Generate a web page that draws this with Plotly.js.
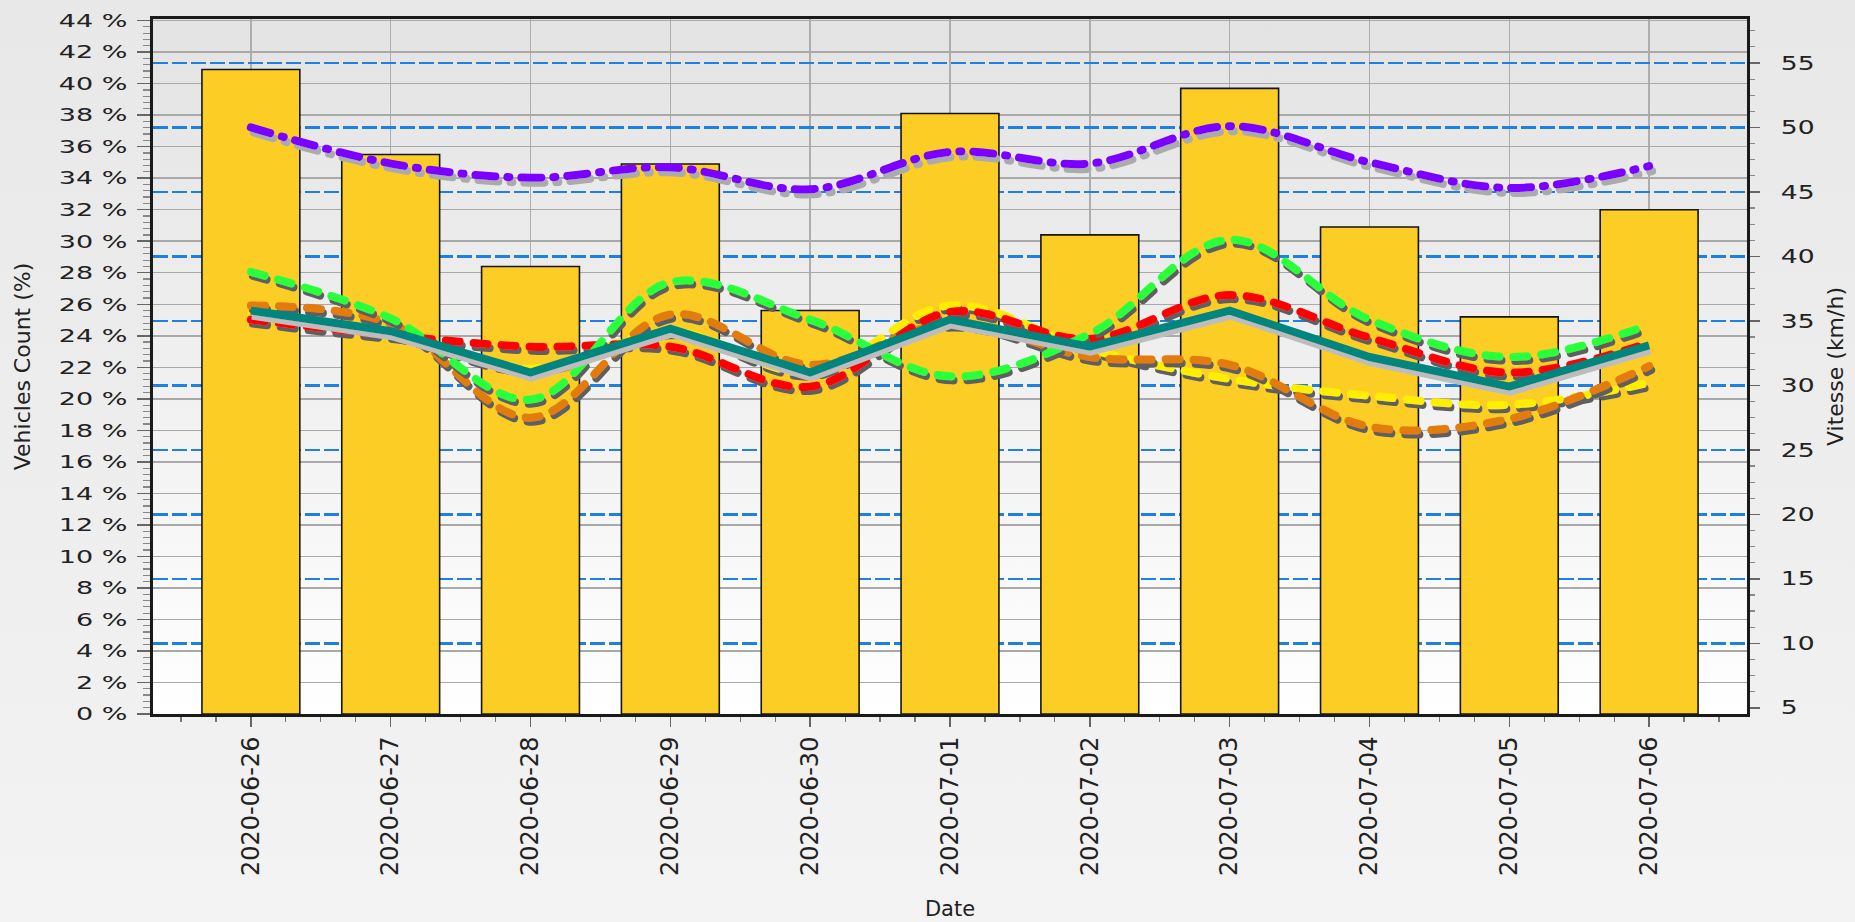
<!DOCTYPE html>
<html><head><meta charset="utf-8">
<script src="https://cdn.plot.ly/plotly-3.0.1.min.js"></script>
<style>
html,body{margin:0;padding:0;}
body{width:1855px;height:922px;background:linear-gradient(to bottom,#e8e8e8,#f3f3f3);overflow:hidden;}
#chart{width:1855px;height:922px;}
</style></head><body><div id="chart"></div>
<script>
// ---- data ----
const dates = ['2020-06-26','2020-06-27','2020-06-28','2020-06-29','2020-06-30','2020-07-01','2020-07-02','2020-07-03','2020-07-04','2020-07-05','2020-07-06'];
const vehiclesPct = [40.9, 35.5, 28.4, 34.9, 25.6, 38.1, 30.4, 39.7, 30.9, 25.2, 32.0];
const speedPurple = [50.0, 47.2, 46.1, 46.9, 45.2, 48.1, 47.2, 50.1, 47.3, 45.3, 47.0];
const speedYellow = [35.4, 34.0, 31.3, 34.2, 31.0, 36.2, 32.8, 30.5, 29.2, 28.5, 30.2];
const speedOrange = [36.2, 34.8, 27.5, 35.5, 31.6, 34.8, 32.2, 31.6, 26.8, 27.4, 31.5];
const speedRed    = [35.1, 33.9, 33.0, 33.0, 29.9, 35.7, 33.6, 37.0, 33.7, 31.0, 33.3];
const speedGreen  = [38.8, 35.2, 28.9, 38.0, 35.1, 30.7, 34.0, 41.3, 35.1, 32.2, 34.7];
const speedTeal   = [35.8, 34.2, 31.0, 34.4, 31.0, 35.1, 33.0, 35.8, 32.2, 29.9, 33.1];

const pos = dates.map((d, i) => i);

function dashed(y, color) {
  return {type:'scatter', mode:'lines', x:pos, y:y, yaxis:'y2', hoverinfo:'skip',
    line:{color:color, width:8, dash:'14px,14px', shape:'spline', smoothing:1}};
}
const data = [
  {type:'bar', x:pos, y:vehiclesPct, width:0.7, yaxis:'y', hoverinfo:'skip',
   marker:{color:'#fccd24', line:{color:'#151515', width:1.6}}},
  {type:'scatter', mode:'lines', x:pos, y:speedPurple, yaxis:'y2', hoverinfo:'skip',
   line:{color:'#7b00ff', width:8, dash:'20px,12px,2px,12px', shape:'spline', smoothing:1}},
  dashed(speedYellow, '#ffee00'),
  dashed(speedOrange, '#e27b10'),
  dashed(speedRed, '#ff0000'),
  dashed(speedGreen, '#2cff3a'),
  {type:'scatter', mode:'lines', x:pos, y:speedTeal, yaxis:'y2', hoverinfo:'skip',
   line:{color:'#00857f', width:8, shape:'linear'}}
];
const shadows = [
  ['shPurple', '#ababab', 3, 5],
  ['shYellow', '#5e5e5e', 2, 4],
  ['shOrange', '#5e5e5e', 2, 4],
  ['shRed',    '#5e5e5e', 2, 4],
  ['shGreen',  '#5e5e5e', 2, 4],
  ['shTeal',   '#bdbdbd', 1, 5]
];

const layout = {
  width:1855, height:922,
  margin:{l:153, r:108, t:19, b:208, autoexpand:false},
  paper_bgcolor:'rgba(0,0,0,0)', plot_bgcolor:'#f0f0f0',
  showlegend:false, bargap:0.3,
  font:{family:'DejaVu Sans, Verdana, sans-serif', color:'#222', size:19},
  xaxis:{
    range:[-0.7, 10.7], tickmode:'array', tickvals:pos, ticktext:dates, tickangle:-90,
    tickfont:{family:'DejaVu Sans, Verdana, sans-serif', size:24, color:'#222'},
    ticks:'outside', ticklen:10, tickwidth:1.5, tickcolor:'#666', ticklabelstandoff:0,
    showgrid:true, gridcolor:'#adadad', gridwidth:1.5,
    showline:true, linecolor:'#1a1a1a', linewidth:3, mirror:true, zeroline:false,
    minor:{tickmode:'linear', tick0:0, dtick:0.25, ticks:'outside', ticklen:5, tickwidth:1.2, tickcolor:'#777', showgrid:false},
    title:{text:'Date', font:{size:21, color:'#222'}, standoff:27}
  },
  yaxis:{
    range:[0, 44.1], tick0:0, dtick:2, ticksuffix:' %',
    ticks:'outside', ticklen:13, tickwidth:1.5, tickcolor:'#666', ticklabelstandoff:6,
    tickfont:{size:18, color:'#222'},
    showgrid:true, gridcolor:'#a9a9a9', gridwidth:1.5,
    showline:true, linecolor:'#1a1a1a', linewidth:3, zeroline:false,
    minor:{tick0:0, dtick:0.4, ticks:'outside', ticklen:7, tickwidth:1.2, tickcolor:'#888', showgrid:false},
    title:{text:'Vehicles Count (%)', font:{size:22, color:'#222'}, standoff:45}
  },
  yaxis2:{
    overlaying:'y', side:'right', range:[4.52, 58.41], tick0:5, dtick:5,
    ticks:'outside', ticklen:10, tickwidth:1.5, tickcolor:'#666', ticklabelstandoff:17,
    tickfont:{size:19, color:'#222'},
    showgrid:true, gridcolor:'#1f80e4', gridwidth:2.5, griddash:'15px,4px',
    showline:true, linecolor:'#1a1a1a', linewidth:3, zeroline:false,
    minor:{tick0:5, dtick:1.25, ticks:'outside', ticklen:5, tickwidth:1.2, tickcolor:'#888', showgrid:false},
    title:{text:'Vitesse (km/h)', font:{size:22, color:'#222'}, standoff:24}
  }
};

const gd = document.getElementById('chart');
Plotly.newPlot(gd, data, layout, {staticPlot:true, displayModeBar:false}).then(() => {
  const NS = 'http://www.w3.org/2000/svg';
  const svg = gd.querySelector('svg.main-svg');
  let defs = svg.querySelector('defs');
  if (!defs) { defs = document.createElementNS(NS, 'defs'); svg.insertBefore(defs, svg.firstChild); }
  function el(tag, attrs, parent) {
    const e = document.createElementNS(NS, tag);
    for (const k in attrs) e.setAttribute(k, attrs[k]);
    if (parent) parent.appendChild(e);
    return e;
  }
  // drop shadows under the speed lines
  shadows.forEach(([id, color, dx, dy]) => {
    const f = el('filter', {id:id, filterUnits:'userSpaceOnUse', x:-300, y:-300, width:2600, height:1600}, defs);
    el('feOffset', {in:'SourceAlpha', dx:dx, dy:dy, result:'off'}, f);
    el('feFlood', {'flood-color':color, result:'col'}, f);
    el('feComposite', {in:'col', in2:'off', operator:'in', result:'sh'}, f);
    const m = el('feMerge', {}, f);
    el('feMergeNode', {in:'sh'}, m);
    el('feMergeNode', {in:'SourceGraphic'}, m);
  });
  // plot-area vertical gradient
  const grad = el('linearGradient', {id:'plotGrad', x1:0, y1:0, x2:0, y2:1}, defs);
  el('stop', {offset:'0', 'stop-color':'#e3e3e3'}, grad);
  el('stop', {offset:'0.55', 'stop-color':'#f1f1f1'}, grad);
  el('stop', {offset:'1', 'stop-color':'#ffffff'}, grad);
  const bg = svg.querySelector('.bglayer rect.bg');
  if (bg) bg.style.fill = 'url(#plotGrad)';
  const traces = svg.querySelectorAll('.scatterlayer .trace');
  traces.forEach((t, i) => {
    if (shadows[i]) t.setAttribute('filter', 'url(#' + shadows[i][0] + ')');
    t.querySelectorAll('path.js-line').forEach(p => { if (i < 5) p.style.strokeLinecap = 'round'; });
  });
  // no blue grid line at the very bottom (5 km/h)
  let maxY = -1, bottomLine = null;
  svg.querySelectorAll('path.y2grid').forEach(p => {
    const m = /translate\(\s*[-\d.]+\s*,\s*([-\d.]+)\s*\)/.exec(p.getAttribute('transform') || '');
    const y = m ? parseFloat(m[1]) : -1;
    if (y > maxY) { maxY = y; bottomLine = p; }
  });
  if (bottomLine) bottomLine.style.display = 'none';
  // wide tick-label lettering as in the reference
  function stretch(sel, s) {
    svg.querySelectorAll(sel).forEach(t => {
      const x = parseFloat(t.getAttribute('x')) || 0;
      const tr = t.getAttribute('transform') || '';
      t.setAttribute('transform', tr + ' translate(' + x + ',0) scale(' + s + ',1) translate(' + (-x) + ',0)');
    });
  }
  stretch('g.ytick text', 1.5);
  stretch('g.y2tick text', 1.4);
});
</script>
</body></html>
